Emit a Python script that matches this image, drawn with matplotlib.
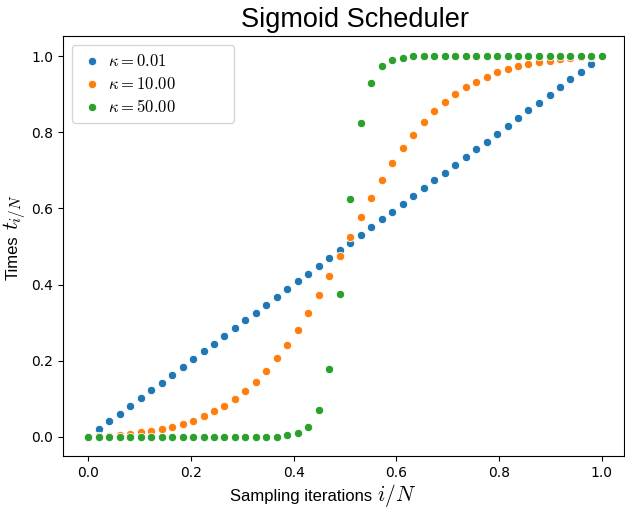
import matplotlib
matplotlib.use("Agg")
import matplotlib.pyplot as plt

# sampling positions i/N (50 points)
steps = [0.0000, 0.0204, 0.0408, 0.0612, 0.0816, 0.1020, 0.1224, 0.1429, 0.1633, 0.1837,
         0.2041, 0.2245, 0.2449, 0.2653, 0.2857, 0.3061, 0.3265, 0.3469, 0.3673, 0.3878,
         0.4082, 0.4286, 0.4490, 0.4694, 0.4898, 0.5102, 0.5306, 0.5510, 0.5714, 0.5918,
         0.6122, 0.6327, 0.6531, 0.6735, 0.6939, 0.7143, 0.7347, 0.7551, 0.7755, 0.7959,
         0.8163, 0.8367, 0.8571, 0.8776, 0.8980, 0.9184, 0.9388, 0.9592, 0.9796, 1.0000]

# kappa = 0.01 (almost linear)
t_k001 = [0.0000, 0.0204, 0.0408, 0.0612, 0.0816, 0.1020, 0.1224, 0.1429, 0.1633, 0.1837,
          0.2041, 0.2245, 0.2449, 0.2653, 0.2857, 0.3061, 0.3265, 0.3469, 0.3673, 0.3878,
          0.4082, 0.4286, 0.4490, 0.4694, 0.4898, 0.5102, 0.5306, 0.5510, 0.5714, 0.5918,
          0.6122, 0.6327, 0.6531, 0.6735, 0.6939, 0.7143, 0.7347, 0.7551, 0.7755, 0.7959,
          0.8163, 0.8367, 0.8571, 0.8776, 0.8980, 0.9184, 0.9388, 0.9592, 0.9796, 1.0000]

# kappa = 10
t_k10 = [0.000, 0.002, 0.003, 0.006, 0.008, 0.012, 0.016, 0.021, 0.027, 0.034,
         0.043, 0.054, 0.067, 0.082, 0.100, 0.121, 0.145, 0.174, 0.206, 0.242,
         0.282, 0.326, 0.373, 0.423, 0.474, 0.526, 0.577, 0.627, 0.674, 0.718,
         0.758, 0.794, 0.826, 0.855, 0.879, 0.900, 0.918, 0.933, 0.946, 0.957,
         0.966, 0.973, 0.979, 0.984, 0.988, 0.992, 0.994, 0.997, 0.998, 1.000]

# kappa = 50
t_k50 = [0.000, 0.000, 0.000, 0.000, 0.000, 0.000, 0.000, 0.000, 0.000, 0.000,
         0.000, 0.000, 0.000, 0.000, 0.000, 0.000, 0.000, 0.000, 0.001, 0.004,
         0.010, 0.027, 0.072, 0.178, 0.375, 0.625, 0.825, 0.929, 0.973, 0.990,
         0.996, 0.999, 0.999, 1.000, 1.000, 1.000, 1.000, 1.000, 1.000, 1.000,
         1.000, 1.000, 1.000, 1.000, 1.000, 1.000, 1.000, 1.000, 1.000, 1.000]

labels = [r"$\kappa = 0.01$", r"$\kappa = 10.00$", r"$\kappa = 50.00$"]
colors = ["#1f77b4", "#ff7f0e", "#2ca02c"]

plt.rcParams["mathtext.fontset"] = "cm"

W, H = 625, 515
fig = plt.figure(figsize=(W / 100, H / 100), dpi=100)
ax = fig.add_axes([63 / W, 59 / H, 561 / W, 420.5 / H])

for ys, lab, c in zip([t_k001, t_k10, t_k50], labels, colors):
    ax.scatter(steps, ys, s=36, color=c, edgecolor="white", linewidth=0.6, label=lab)

ax.set_xlim(-0.049, 1.043)
ax.set_ylim(-0.05, 1.054)
ax.set_xticks([0.0, 0.2, 0.4, 0.6, 0.8, 1.0])
ax.set_yticks([0.0, 0.2, 0.4, 0.6, 0.8, 1.0])
ax.tick_params(labelsize=10)

ax.set_title("Sigmoid Scheduler", fontsize=19.5, family="Liberation Sans", pad=6, x=0.52)

# axis labels: plain words in Arial-like font, math part a bit larger
lab_font = dict(fontsize=12, family="Liberation Sans")
fig.text(230 / W, 1 - 501 / H, "Sampling iterations", ha="left", va="baseline", **lab_font)
fig.text(377 / W, 1 - 501 / H, r"$i/N$", ha="left", va="baseline", fontsize=15.5)
fig.text(18 / W, 1 - 280 / H, "Times", rotation=90, rotation_mode="anchor",
         ha="left", va="baseline", **lab_font)
fig.text(18 / W, 1 - 230 / H, r"$t_{i/N}$", rotation=90, rotation_mode="anchor",
         ha="left", va="baseline", fontsize=15.5)

ax.legend(loc="upper left", bbox_to_anchor=(0.0155, 0.797, 0.2895, 0.18), mode="expand",
          borderaxespad=0, fontsize=12, handlelength=1.6, handletextpad=0.15,
          labelspacing=0.3)

fig.savefig("out.png", dpi=100)
